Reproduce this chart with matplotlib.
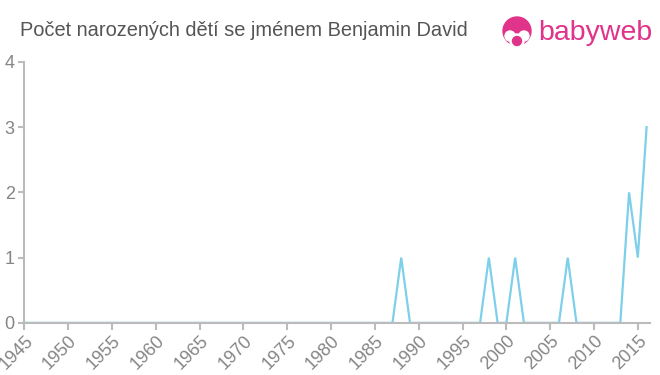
import matplotlib.pyplot as plt
from matplotlib.patches import Circle

years = list(range(1945, 2017))
peaks = {1988: 1, 1998: 1, 2001: 1, 2007: 1, 2014: 2, 2015: 1, 2016: 3}
counts = [peaks.get(y, 0) for y in years]
x_ticks = list(range(1945, 2016, 5))
y_ticks = [0, 1, 2, 3, 4]
title = "Počet narozených dětí se jménem Benjamin David"

plt.rcParams["font.family"] = ["Liberation Sans", "DejaVu Sans"]

fig = plt.figure(figsize=(6.6, 3.75), dpi=100)
ax = fig.add_axes([0.037, 0.139, 0.948, 0.696])
ax.plot(years, counts, color="#7ecfea", linewidth=1.6, solid_joinstyle="miter")

ax.set_xlim(1945, 2016.4)
ax.set_ylim(0, 4)
ax.set_xticks(x_ticks)
ax.set_yticks(y_ticks)
ax.set_xticklabels([str(x) for x in x_ticks], rotation=45, ha="right",
                   rotation_mode="anchor", fontsize=13, color="#858585")
ax.set_yticklabels([str(y) for y in y_ticks], fontsize=13, color="#858585")
ax.tick_params(axis="x", length=5, color="#bbbbbb", width=1.5, pad=2)
ax.tick_params(axis="y", length=4, color="#bbbbbb", width=1.5, pad=3)
for s in ["top", "right"]:
    ax.spines[s].set_visible(False)
for s in ["left", "bottom"]:
    ax.spines[s].set_color("#bbbbbb")
    ax.spines[s].set_linewidth(1.5)

fig.text(20 / 660, 1 - 30 / 375, title, fontsize=14.4, color="#555555",
         va="center", ha="left")

# logo
pink = "#e0338a"
lax = fig.add_axes([500 / 660, 1 - 50 / 375, 34 / 660, 34 / 375])
lax.set_xlim(0, 34)
lax.set_ylim(0, 34)
lax.axis("off")
lax.add_patch(Circle((17, 19), 14, color=pink))
lax.add_patch(Circle((10, 14), 5, color="white"))
lax.add_patch(Circle((24, 14), 5, color="white"))
lax.add_patch(Circle((17, 9), 7, color="white"))
lax.add_patch(Circle((17, 9), 4.5, color=pink))
fig.text(538 / 660, 1 - 33 / 375, "babyweb", fontsize=20.5, color=pink,
         va="center", ha="left")

fig.savefig("out.png", dpi=100)
